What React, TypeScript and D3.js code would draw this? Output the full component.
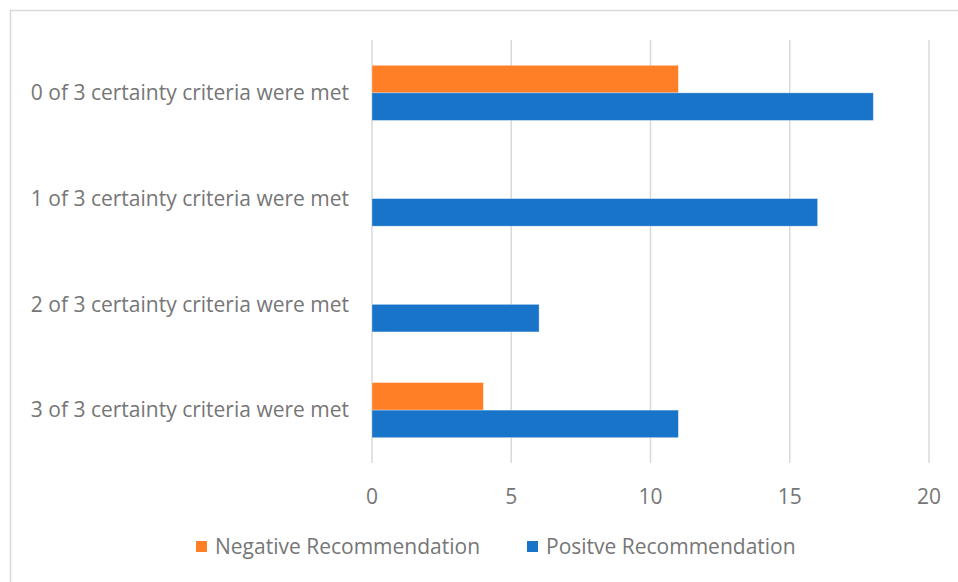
import React from "react";
import * as d3 from "d3";

const categories = [
  "0 of 3 certainty criteria were met",
  "1 of 3 certainty criteria were met",
  "2 of 3 certainty criteria were met",
  "3 of 3 certainty criteria were met",
];
const negativeValues = [11, 0, 0, 4];
const positiveValues = [18, 16, 6, 11];
const seriesNames = ["Negative Recommendation", "Positve Recommendation"];
const xTicks = [0, 5, 10, 15, 20];

const W = 958;
const H = 582;
const plot = { left: 372, right: 929, top: 40, bottom: 463 };
const colors = ["#FF7F27", "#1874C9"];
const textColor = "#767676";
const font = "'Open Sans', sans-serif";
const fs = 21;

export default function App() {
  const x = d3.scaleLinear().domain([0, 20]).range([plot.left, plot.right]);
  const y = d3
    .scaleBand<string>()
    .domain(categories)
    .range([plot.top, plot.bottom])
    .paddingInner(0)
    .paddingOuter(0);
  const band = y.bandwidth();
  const barH = band / 1.92 / 2;
  const series = [negativeValues, positiveValues];

  return (
    <svg
      width={W}
      height={H}
      style={{ position: "fixed", left: 0, top: 0, background: "#fff" }}
    >
      <rect x={0} y={0} width={W} height={H} fill="#fff" />
      <rect
        x={10.5}
        y={10.5}
        width={W + 20}
        height={H + 20}
        fill="none"
        stroke="#d9d9d9"
        strokeWidth={1.5}
      />
      {xTicks.map((t) => (
        <line
          key={t}
          x1={x(t)}
          x2={x(t)}
          y1={plot.top}
          y2={plot.bottom}
          stroke="#d9d9d9"
          strokeWidth={1.5}
        />
      ))}
      {categories.map((c, i) => {
        const cy = (y(c) as number) + band / 2;
        return (
          <g key={c}>
            {series.map((vals, s) => (
              <rect
                key={s}
                x={x(0)}
                y={cy - barH + s * barH}
                width={x(vals[i]) - x(0)}
                height={barH}
                fill={colors[s]}
                stroke={vals[i] > 0 ? "#ffffff" : "none"}
                strokeOpacity={0.4}
                strokeWidth={0.75}
              />
            ))}
            <text
              x={349}
              y={cy}
              dy="0.35em"
              textAnchor="end"
              fontFamily={font}
              fontSize={fs}
              fill={textColor}
            >
              {c}
            </text>
          </g>
        );
      })}
      {xTicks.map((t) => (
        <text
          key={t}
          x={x(t)}
          y={497}
          dy="0.35em"
          textAnchor="middle"
          fontFamily={font}
          fontSize={fs}
          fill={textColor}
        >
          {t}
        </text>
      ))}
      {seriesNames.map((n, i) => {
        const lx = [196, 527][i];
        return (
          <g key={n}>
            <rect x={lx} y={541} width={11} height={11} fill={colors[i]} />
            <text
              x={lx + 19}
              y={547}
              dy="0.35em"
              fontFamily={font}
              fontSize={fs}
              fill={textColor}
            >
              {n}
            </text>
          </g>
        );
      })}
    </svg>
  );
}
